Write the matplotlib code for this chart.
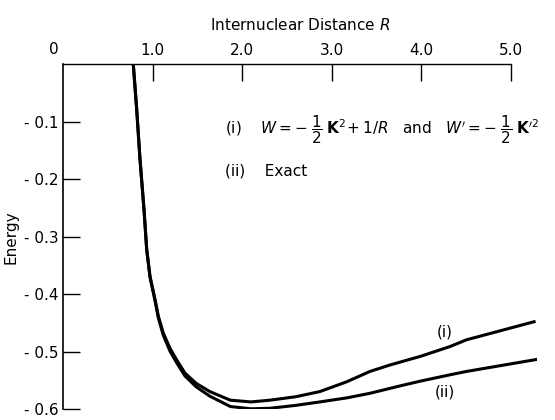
import numpy as np
import matplotlib
matplotlib.use("Agg")
import matplotlib.pyplot as plt

plt.rcParams['font.family'] = ['DejaVu Sans']
plt.rcParams['mathtext.fontset'] = 'dejavusans'

# values
R_i = [0.785, 0.823, 0.86, 0.905, 0.935, 0.972, 1.028, 1.065, 1.12, 1.196,
       1.27, 1.363, 1.49, 1.64, 1.87, 2.1, 2.313, 2.6, 2.87, 3.17, 3.43,
       3.65, 3.99, 4.32, 4.51, 5.28]
E_i = [0.0, -0.078, -0.165, -0.253, -0.322, -0.369, -0.409, -0.438, -0.467,
       -0.494, -0.514, -0.537, -0.555, -0.569, -0.584, -0.587, -0.584,
       -0.578, -0.569, -0.552, -0.534, -0.523, -0.508, -0.491, -0.479, -0.447]

R_ii = [0.785, 0.823, 0.86, 0.905, 0.935, 0.972, 1.028, 1.065, 1.12, 1.196,
        1.27, 1.363, 1.49, 1.64, 1.87, 2.1, 2.313, 2.6, 2.87, 3.17, 3.43,
        3.77, 3.99, 4.32, 4.51, 5.3]
E_ii = [0.0, -0.078, -0.165, -0.253, -0.322, -0.37, -0.411, -0.441, -0.471,
        -0.499, -0.519, -0.542, -0.561, -0.577, -0.595, -0.599, -0.598,
        -0.593, -0.587, -0.580, -0.572, -0.559, -0.551, -0.540, -0.534, -0.513]

x_ticks = [1, 2, 3, 4, 5]
x_labels = ["1.0", "2.0", "3.0", "4.0", "5.0"]
y_ticks = [-0.1, -0.2, -0.3, -0.4, -0.5, -0.6]
y_labels = ["- 0.1", "- 0.2", "- 0.3", "- 0.4", "- 0.5", "- 0.6"]

fig = plt.figure(figsize=(5.55, 4.2), dpi=100)
ax = fig.add_axes([63 / 555, 1 - 409.4 / 420, (537.4 - 63) / 555, (409.4 - 64) / 420])

ax.plot(R_i, E_i, color='black', lw=2.2, solid_capstyle='butt')
ax.plot(R_ii, E_ii, color='black', lw=2.2, solid_capstyle='butt')

ax.set_xlim(0, 5.3)
ax.set_ylim(-0.6, 0)
ax.spines['right'].set_visible(False)
ax.spines['bottom'].set_visible(False)
ax.spines['top'].set_bounds(0, 5)
ax.spines['top'].set_linewidth(1.0)
ax.spines['left'].set_linewidth(1.2)

ax.xaxis.tick_top()
ax.xaxis.set_label_position('top')
ax.set_xticks(x_ticks)
ax.set_xticklabels(x_labels, fontsize=11)
ax.tick_params(axis='x', direction='in', length=12, width=1.0, pad=4)
ax.set_yticks(y_ticks)
ax.set_yticklabels(y_labels, fontsize=11)
ax.tick_params(axis='y', direction='in', length=12, width=1.0, pad=3)
ax.text(-0.1, 0.012, "0", fontsize=11, ha='center', va='bottom',
        transform=ax.transData, clip_on=False)

ax.set_xlabel(r"Internuclear Distance $R$", fontsize=11, labelpad=10)
ax.set_ylabel("Energy", fontsize=11, labelpad=4)

ax.text(1.81, -0.114,
        r"(i)    $W = -\;\dfrac{1}{2}\;\mathbf{K}^{2}\!+ 1/R$   and   $W' = -\;\dfrac{1}{2}\;\mathbf{K}'^{2}$",
        fontsize=11, va='center', ha='left')
ax.text(1.81, -0.186, "(ii)    Exact", fontsize=11, va='center', ha='left')

ax.text(4.27, -0.465, "(i)", fontsize=11, ha='center', va='center')
ax.text(4.27, -0.57, "(ii)", fontsize=11, ha='center', va='center')

fig.savefig("out.png", dpi=100)
